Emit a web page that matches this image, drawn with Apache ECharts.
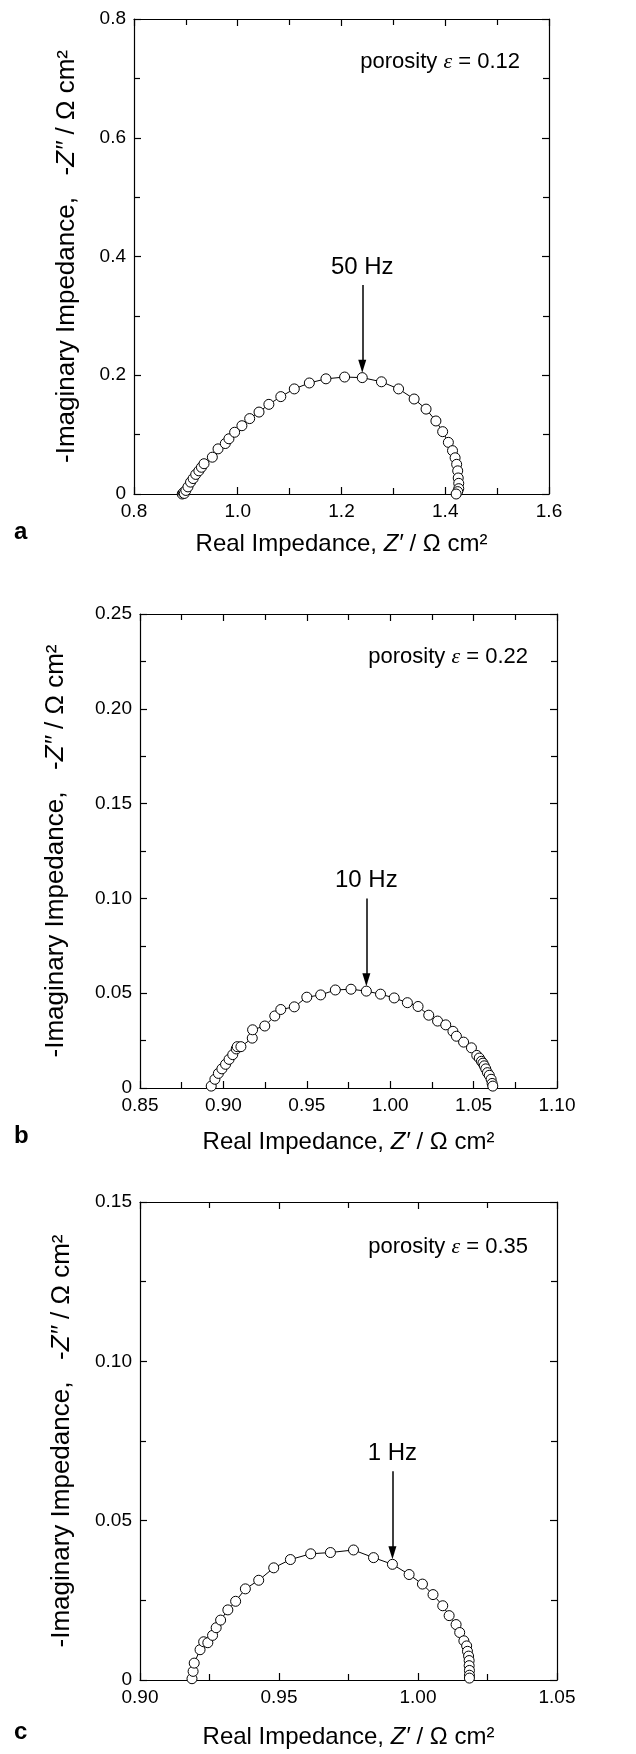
<!DOCTYPE html>
<html>
<head>
<meta charset="utf-8">
<script src="https://cdn.jsdelivr.net/npm/echarts@6/dist/echarts.min.js"></script>
<style>
  html, body { margin: 0; padding: 0; background: #fff; }
  #main { width: 636px; height: 1754px; }
</style>
</head>
<body>
<div id="main"></div>
<script>
  // panel a, porosity 0.12 (Z' and -Z'' in ohm cm2)
  var reA = [0.893, 0.895, 0.897, 0.900, 0.904, 0.909, 0.914, 0.919, 0.925, 0.930, 0.935, 0.951, 0.962, 0.976, 0.983,
    0.994, 1.008, 1.023, 1.041, 1.060, 1.083, 1.109, 1.138, 1.170, 1.206, 1.240, 1.277, 1.310, 1.340, 1.363,
    1.382, 1.395, 1.406, 1.414, 1.419, 1.422, 1.424, 1.425, 1.426, 1.426, 1.424, 1.421];
  var imA = [0.000, 0.002, 0.001, 0.006, 0.012, 0.020, 0.026, 0.033, 0.039, 0.045, 0.051, 0.062, 0.076, 0.085, 0.093,
    0.104, 0.115, 0.127, 0.138, 0.151, 0.164, 0.177, 0.187, 0.194, 0.197, 0.196, 0.189, 0.177, 0.160, 0.143,
    0.123, 0.105, 0.087, 0.073, 0.061, 0.050, 0.039, 0.027, 0.018, 0.009, 0.004, 0.000];

  // panel b, porosity 0.22
  var reB = [0.8927, 0.8949, 0.8970, 0.8991, 0.9013, 0.9034, 0.9056, 0.9077, 0.9083, 0.9105, 0.9173, 0.9175, 0.9248,
    0.9308, 0.9344, 0.9425, 0.9500, 0.9583, 0.9671, 0.9765, 0.9857, 0.9942, 1.0024, 1.0103, 1.0167, 1.0231,
    1.0284, 1.0333, 1.0376, 1.0397, 1.0440, 1.0487, 1.0519, 1.0534, 1.0547, 1.0556, 1.0564, 1.0573, 1.0583,
    1.0594, 1.0605, 1.0611, 1.0615];
  var imB = [0.0010, 0.0046, 0.0077, 0.0101, 0.0125, 0.0151, 0.0176, 0.0206, 0.0218, 0.0218, 0.0263, 0.0307, 0.0327,
    0.0380, 0.0414, 0.0428, 0.0479, 0.0491, 0.0517, 0.0521, 0.0511, 0.0495, 0.0475, 0.0450, 0.0430, 0.0384,
    0.0353, 0.0333, 0.0299, 0.0273, 0.0242, 0.0212, 0.0172, 0.0158, 0.0141, 0.0131, 0.0117, 0.0101, 0.0081,
    0.0067, 0.0046, 0.0024, 0.0010];

  // panel c, porosity 0.35
  var reC = [0.9187, 0.9191, 0.9195, 0.9216, 0.9229, 0.9244, 0.9261, 0.9274, 0.9290, 0.9316, 0.9344, 0.9379, 0.9427,
    0.9481, 0.9541, 0.9614, 0.9685, 0.9768, 0.9840, 0.9908, 0.9968, 1.0016, 1.0054, 1.0089, 1.0112, 1.0137,
    1.0150, 1.0165, 1.0175, 1.0178, 1.0182, 1.0184, 1.0184, 1.0185, 1.0185, 1.0185];
  var imC = [0.0004, 0.0027, 0.0053, 0.0095, 0.0120, 0.0117, 0.0140, 0.0164, 0.0188, 0.0220, 0.0247, 0.0286, 0.0313,
    0.0352, 0.0378, 0.0396, 0.0400, 0.0408, 0.0384, 0.0363, 0.0331, 0.0301, 0.0268, 0.0233, 0.0202, 0.0174,
    0.0149, 0.0123, 0.0107, 0.0090, 0.0075, 0.0061, 0.0045, 0.0030, 0.0015, 0.0006];

  // axis ranges: [min, max, interval]
  var xAxisA = [0.8, 1.6, 0.2], yAxisA = [0, 0.8, 0.2];
  var xAxisB = [0.85, 1.10, 0.05], yAxisB = [0, 0.25, 0.05];
  var xAxisC = [0.90, 1.05, 0.05], yAxisC = [0, 0.15, 0.05];

  // frequency arrows: [x, y start, y end]
  var arrowA = [1.240, 0.352, 0.215], arrowB = [0.9857, 0.100, 0.0571], arrowC = [0.9908, 0.0655, 0.0399];
  var freqLabels = ['50 Hz', '10 Hz', '1 Hz'];
  var porosities = ['0.12', '0.22', '0.35'];
  var panelNames = ['a', 'b', 'c'];

  var FONT = "'Liberation Sans', Arial, sans-serif";
  var panels = [
    {re: reA, im: imA, xr: xAxisA, yr: yAxisA, arrow: arrowA, xd: 1, yd: 1,
      box: {left: 134, top: 19, width: 415, height: 475}, yGap: 54, xGap: 38, letter: 26, poro: 32},
    {re: reB, im: imB, xr: xAxisB, yr: yAxisB, arrow: arrowB, xd: 2, yd: 2,
      box: {left: 140, top: 614, width: 417, height: 474}, yGap: 71, xGap: 42, letter: 36, poro: 32},
    {re: reC, im: imC, xr: xAxisC, yr: yAxisC, arrow: arrowC, xd: 2, yd: 2,
      box: {left: 140, top: 1202, width: 417, height: 478}, yGap: 65, xGap: 45, letter: 40, poro: 34}
  ];

  var grid = [], xAxis = [], yAxis = [], series = [], title = [];

  function baseAxis(r) {
    return {
      min: r[0], max: r[1], interval: r[2],
      axisLine: {show: true, onZero: false, lineStyle: {color: '#000', width: 1.2}},
      axisTick: {show: true, inside: true, length: 7, lineStyle: {color: '#000', width: 1.2}},
      minorTick: {show: true, splitNumber: 2, length: 6, lineStyle: {color: '#000', width: 1.2}},
      splitLine: {show: false},
      axisLabel: {show: false}
    };
  }

  panels.forEach(function (p, i) {
    grid.push({left: p.box.left, top: p.box.top, width: p.box.width, height: p.box.height, containLabel: false});

    var xb = baseAxis(p.xr);
    xb.gridIndex = i; xb.position = 'bottom';
    xb.axisLabel = {show: true, fontSize: 19, color: '#000', fontFamily: FONT, margin: 8,
      formatter: (function (d) { return function (v) { return v.toFixed(d); }; })(p.xd)};
    xb.name = "Real Impedance, {i|Z′} / Ω cm²";
    xb.nameLocation = 'middle';
    xb.nameGap = p.xGap;
    xb.nameTextStyle = {fontSize: 24, color: '#000', fontFamily: FONT,
      rich: {i: {fontSize: 24, fontStyle: 'italic', color: '#000', fontFamily: FONT}}};
    var xt = baseAxis(p.xr);
    xt.gridIndex = i; xt.position = 'top';
    xAxis.push(xb, xt);

    var yl = baseAxis(p.yr);
    yl.gridIndex = i; yl.position = 'left';
    yl.axisLabel = {show: true, fontSize: 19, color: '#000', fontFamily: FONT, margin: 8,
      formatter: (function (d) { return function (v) { return v === 0 ? '0' : v.toFixed(d); }; })(p.yd)};
    yl.name = "-Imaginary Impedance,   -{i|Z″} / Ω cm²";
    yl.nameLocation = 'middle';
    yl.nameRotate = 90;
    yl.nameGap = p.yGap;
    yl.nameTextStyle = {fontSize: 26, color: '#000', fontFamily: FONT,
      rich: {i: {fontSize: 26, fontStyle: 'italic', color: '#000', fontFamily: FONT}}};
    var yr = baseAxis(p.yr);
    yr.gridIndex = i; yr.position = 'right';
    yAxis.push(yl, yr);

    var pts = p.re.map(function (x, k) { return [x, p.im[k]]; });
    series.push({
      type: 'line',
      xAxisIndex: 2 * i,
      yAxisIndex: 2 * i,
      data: pts,
      symbol: 'circle',
      symbolSize: 10,
      showAllSymbol: true,
      itemStyle: {color: '#fff', borderColor: '#000', borderWidth: 1},
      lineStyle: {color: '#000', width: 1},
      markLine: {
        silent: true,
        z: 10,
        symbol: ['none', 'triangle'],
        symbolSize: 10,
        lineStyle: {color: '#000', width: 1.5, type: 'solid'},
        label: {show: true, position: 'start', distance: 6, formatter: freqLabels[i],
          fontSize: 24, color: '#000', fontFamily: FONT},
        data: [[
          {coord: [p.arrow[0], p.arrow[1]], symbol: 'none'},
          {coord: [p.arrow[0], p.arrow[2]], symbol: 'triangle', symbolSize: [8, 13]}
        ]]
      }
    });

    title.push({
      text: 'porosity {e|ε} = ' + porosities[i],
      right: 636 - (p.box.left + p.box.width) + 29,
      top: p.box.top + p.poro,
      padding: 0,
      textStyle: {fontSize: 22, fontWeight: 'normal', color: '#000', fontFamily: FONT,
        rich: {e: {fontSize: 22, fontStyle: 'italic', color: '#000', fontFamily: "'Liberation Serif', serif"}}}
    });
    title.push({
      text: panelNames[i],
      left: 14,
      top: p.box.top + p.box.height + p.letter,
      padding: 0,
      textStyle: {fontSize: 24, fontWeight: 'bold', color: '#000', fontFamily: FONT}
    });
  });

  var myChart = echarts.init(document.getElementById('main'));
  myChart.setOption({
    animation: false,
    backgroundColor: '#fff',
    title: title,
    grid: grid,
    xAxis: xAxis,
    yAxis: yAxis,
    series: series
  });
</script>
</body>
</html>
